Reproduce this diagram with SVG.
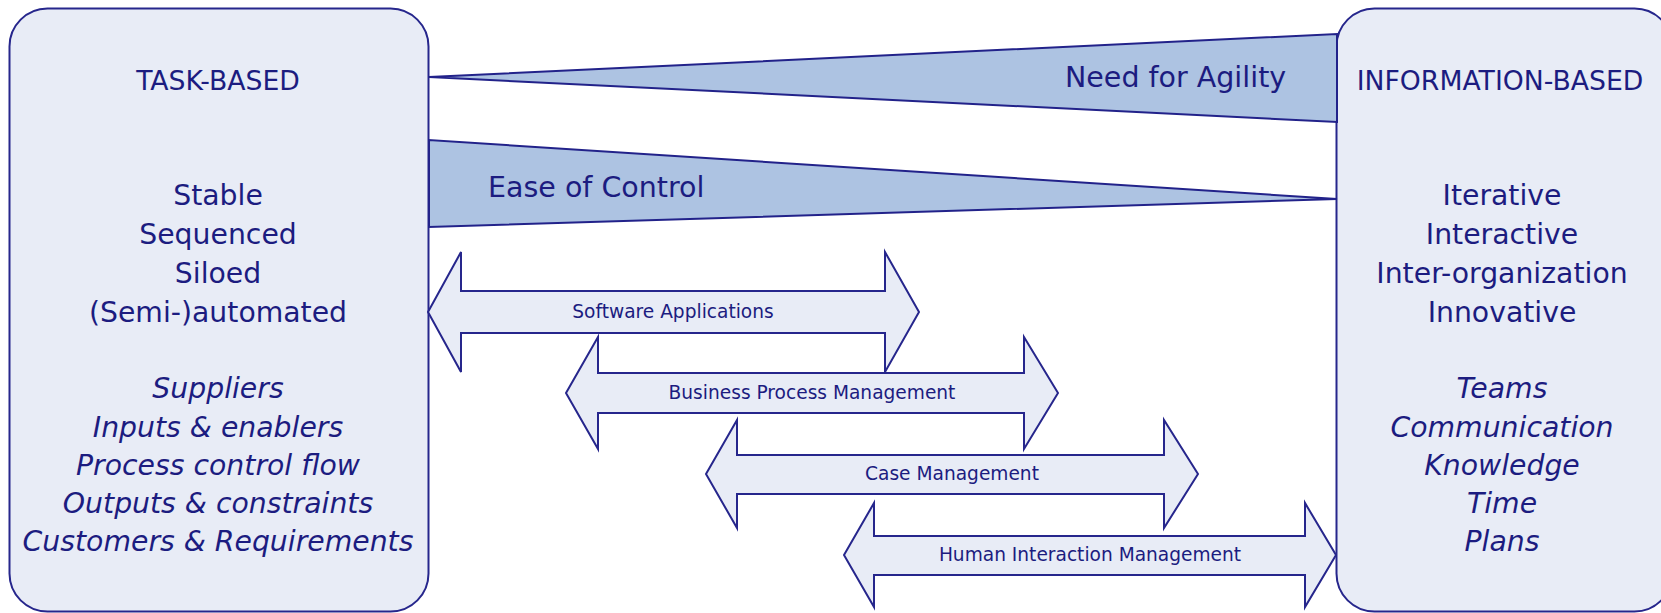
<svg xmlns="http://www.w3.org/2000/svg" width="1661" height="613" viewBox="0 0 1661 613">
<style>
.box{fill:#e8ecf6;stroke:#26268c;stroke-width:2}
.wedge{fill:#adc3e2;stroke:#22228a;stroke-width:2;stroke-linejoin:miter}
.arr{fill:#e8ecf6;stroke:#26268c;stroke-width:2;stroke-linejoin:miter}
text{font-family:"DejaVu Sans",Verdana,sans-serif;fill:#1c1c80;text-anchor:middle}
.hd{font-size:26.7px}
.bd{font-size:28.3px}
.it{font-size:28.3px;font-style:italic}
.wl{font-size:28.5px;text-anchor:start}
.al{font-size:18.6px}
</style>
<rect width="1661" height="613" fill="#ffffff"/>
<g id="task-based">
<rect class="box" x="9.5" y="8.5" width="419" height="603" rx="38" ry="38"/>
<text class="hd" x="218" y="90">TASK-BASED</text>
<text class="bd" x="218" y="205">Stable</text>
<text class="bd" x="218" y="244">Sequenced</text>
<text class="bd" x="218" y="283">Siloed</text>
<text class="bd" x="218" y="322">(Semi-)automated</text>
<text class="it" x="218" y="398">Suppliers</text>
<text class="it" x="218" y="437">Inputs &amp; enablers</text>
<text class="it" x="218" y="475">Process control flow</text>
<text class="it" x="218" y="513">Outputs &amp; constraints</text>
<text class="it" x="218" y="551">Customers &amp; Requirements</text>
</g>
<g id="information-based">
<rect class="box" x="1336.5" y="8.5" width="336" height="603" rx="38" ry="38"/>
<text class="hd" x="1500" y="90">INFORMATION-BASED</text>
<text class="bd" x="1502" y="205">Iterative</text>
<text class="bd" x="1502" y="244">Interactive</text>
<text class="bd" x="1502" y="283">Inter-organization</text>
<text class="bd" x="1502" y="322">Innovative</text>
<text class="it" x="1502" y="398">Teams</text>
<text class="it" x="1502" y="437">Communication</text>
<text class="it" x="1502" y="475">Knowledge</text>
<text class="it" x="1502" y="513">Time</text>
<text class="it" x="1502" y="551">Plans</text>
</g>
<g id="need-for-agility">
<polygon class="wedge" points="429,77 1337,34 1337,122"/>
<text class="wl" x="1065" y="87">Need for Agility</text>
</g>
<g id="ease-of-control">
<polygon class="wedge" points="429,140 429,227 1337,199"/>
<text class="wl" x="488" y="197">Ease of Control</text>
</g>
<g id="connectors">
<g id="software-applications">
<path class="arr" d="M428,312 L461,252 L461,291 L885,291 L885,252 L919,312 L885,372 L885,333 L461,333 L461,372 Z"/>
<text class="al" x="673" y="318">Software Applications</text>
</g>
<g id="bpm">
<path class="arr" d="M566,393 L598,337 L598,373 L1024,373 L1024,337 L1058,393 L1024,449 L1024,413 L598,413 L598,449 Z"/>
<text class="al" x="812" y="399">Business Process Management</text>
</g>
<g id="case-management">
<path class="arr" d="M706,474 L737,420 L737,455 L1164,455 L1164,420 L1198,474 L1164,528 L1164,494 L737,494 L737,528 Z"/>
<text class="al" x="952" y="480">Case Management</text>
</g>
<g id="him">
<path class="arr" d="M844,555 L874,503 L874,536 L1305,536 L1305,503 L1336,555 L1305,607 L1305,575 L874,575 L874,607 Z"/>
<text class="al" x="1090" y="561">Human Interaction Management</text>
</g>
</g>
</svg>
